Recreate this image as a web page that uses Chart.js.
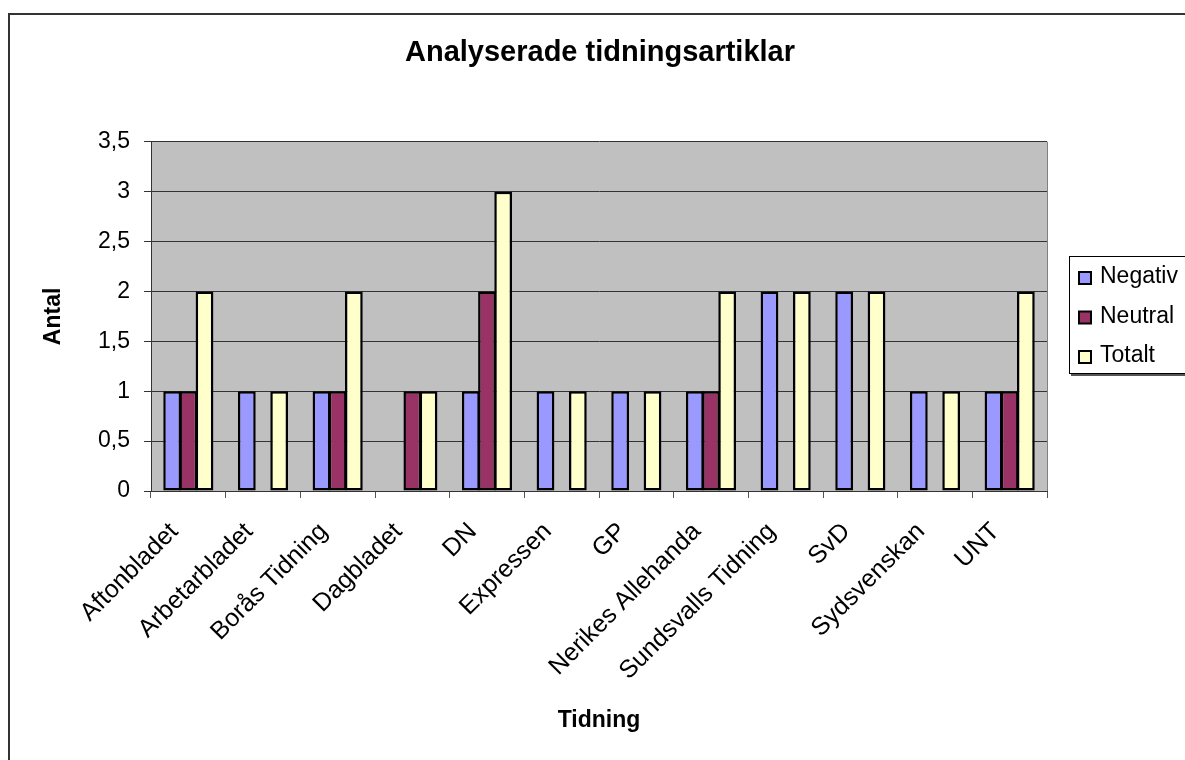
<!DOCTYPE html>
<html>
<head>
<meta charset="utf-8">
<script src="https://cdn.jsdelivr.net/npm/chart.js@4"></script>
<style>
    html, body { margin: 0; padding: 0; background: #fff; }
    #chart { display: block; }
</style>
</head>
<body>
<canvas id="chart" width="1185" height="760"></canvas>
<script>
// Data
const categories = ['Aftonbladet', 'Arbetarbladet', 'Borås Tidning', 'Dagbladet', 'DN', 'Expressen', 'GP',
    'Nerikes Allehanda', 'Sundsvalls Tidning', 'SvD', 'Sydsvenskan', 'UNT'];
const negativ = [1, 1, 1, 0, 1, 1, 1, 1, 2, 2, 1, 1];
const neutral = [1, 0, 1, 1, 2, 0, 0, 1, 0, 0, 0, 1];
const totalt  = [2, 1, 2, 1, 3, 1, 1, 2, 2, 2, 1, 2];
const seriesNames = ['Negativ', 'Neutral', 'Totalt'];
const seriesColors = ['#9999FF', '#993366', '#FFFFCC'];
const yTicks = [0, 0.5, 1, 1.5, 2, 2.5, 3, 3.5];

const FONT = "'Liberation Sans', Arial, sans-serif";

// Excel-like frame, plot background and legend box
const excelFrame = {
    id: 'excelFrame',
    beforeDraw(chart) {
        const { ctx, chartArea } = chart;
        ctx.save();
        ctx.fillStyle = '#fff';
        ctx.fillRect(0, 0, chart.width, chart.height);
        ctx.fillStyle = '#C0C0C0';
        ctx.fillRect(chartArea.left, chartArea.top, chartArea.right - chartArea.left, chartArea.bottom - chartArea.top);
        ctx.restore();
    },
    afterDraw(chart) {
        const { ctx, chartArea } = chart;
        ctx.save();
        // plot area border (right side shows gray)
        ctx.strokeStyle = '#808080';
        ctx.lineWidth = 1;
        ctx.beginPath();
        ctx.moveTo(chartArea.right + 0.5, chartArea.top);
        ctx.lineTo(chartArea.right + 0.5, chartArea.bottom);
        ctx.stroke();

        // outer chart border
        ctx.strokeStyle = '#333';
        ctx.lineWidth = 2;
        ctx.strokeRect(9, 14, chart.width + 20, chart.height + 20);

        // legend box with shadow
        const lx = 1069, ly = 256, lh = 117;
        ctx.fillStyle = '#555';
        ctx.fillRect(lx + 2, ly + 2, 200, lh + 1);
        ctx.fillStyle = '#fff';
        ctx.fillRect(lx, ly, 200, lh);
        ctx.strokeStyle = '#000';
        ctx.lineWidth = 1;
        ctx.strokeRect(lx + 0.5, ly + 0.5, 200, lh);

        ctx.font = '23px ' + FONT;
        ctx.textBaseline = 'middle';
        ctx.textAlign = 'left';
        seriesNames.forEach((name, i) => {
            const cy = 276 + i * 39.5;
            ctx.fillStyle = seriesColors[i];
            ctx.fillRect(1079, cy - 4, 12, 12);
            ctx.strokeStyle = '#000';
            ctx.lineWidth = 2;
            ctx.strokeRect(1079, cy - 4, 12, 12);
            ctx.fillStyle = '#000';
            ctx.fillText(name, 1100, cy + 1);
        });
        ctx.restore();
    }
};

const datasets = [negativ, neutral, totalt].map((values, i) => ({
    label: seriesNames[i],
    data: values,
    backgroundColor: seriesColors[i],
    borderColor: '#000',
    borderWidth: 2.5,
    borderSkipped: false,
    barPercentage: 1.1,
    categoryPercentage: 0.65
}));

new Chart(document.getElementById('chart'), {
    type: 'bar',
    data: { labels: categories, datasets: datasets },
    options: {
        responsive: false,
        animation: false,
        events: [],
        layout: { padding: { top: 0, right: 0, bottom: 0, left: 15 } },
        plugins: {
            legend: { display: false },
            tooltip: { enabled: false },
            title: {
                display: true,
                text: 'Analyserade tidningsartiklar',
                color: '#000',
                font: { family: FONT, size: 29, weight: 'bold' },
                padding: { top: 36, bottom: 71 }
            }
        },
        scales: {
            x: {
                afterFit: scale => { scale.height = 269; },
                grid: {
                    display: true,
                    drawOnChartArea: false,
                    drawTicks: true,
                    tickLength: 7,
                    color: '#555'
                },
                border: { color: '#333', width: 1 },
                ticks: {
                    color: '#000',
                    font: { family: FONT, size: 25 },
                    minRotation: 45,
                    maxRotation: 45,
                    padding: 19,
                    labelOffset: -14,
                    autoSkip: false
                },
                title: {
                    display: true,
                    text: 'Tidning',
                    color: '#000',
                    font: { family: FONT, size: 23, weight: 'bold' },
                    padding: { bottom: 26 }
                }
            },
            y: {
                min: 0,
                max: 3.5,
                afterFit: scale => { scale.width = 136; },
                afterBuildTicks: scale => { scale.ticks = yTicks.map(v => ({ value: v })); },
                grid: {
                    color: '#333',
                    lineWidth: 1,
                    tickLength: 7
                },
                border: { color: '#333', width: 1 },
                ticks: {
                    color: '#000',
                    font: { family: FONT, size: 23 },
                    padding: 14,
                    callback: v => String(v).replace('.', ',')
                },
                title: {
                    display: true,
                    text: 'Antal',
                    color: '#000',
                    font: { family: FONT, size: 23, weight: 'bold' },
                    padding: { top: 25 }
                }
            },
            // empty right-hand scale that reserves the legend column
            yRight: {
                position: 'right',
                afterFit: scale => { scale.width = 138; },
                grid: { display: false },
                border: { display: false },
                ticks: { display: false }
            }
        }
    },
    plugins: [excelFrame]
});
</script>
</body>
</html>
